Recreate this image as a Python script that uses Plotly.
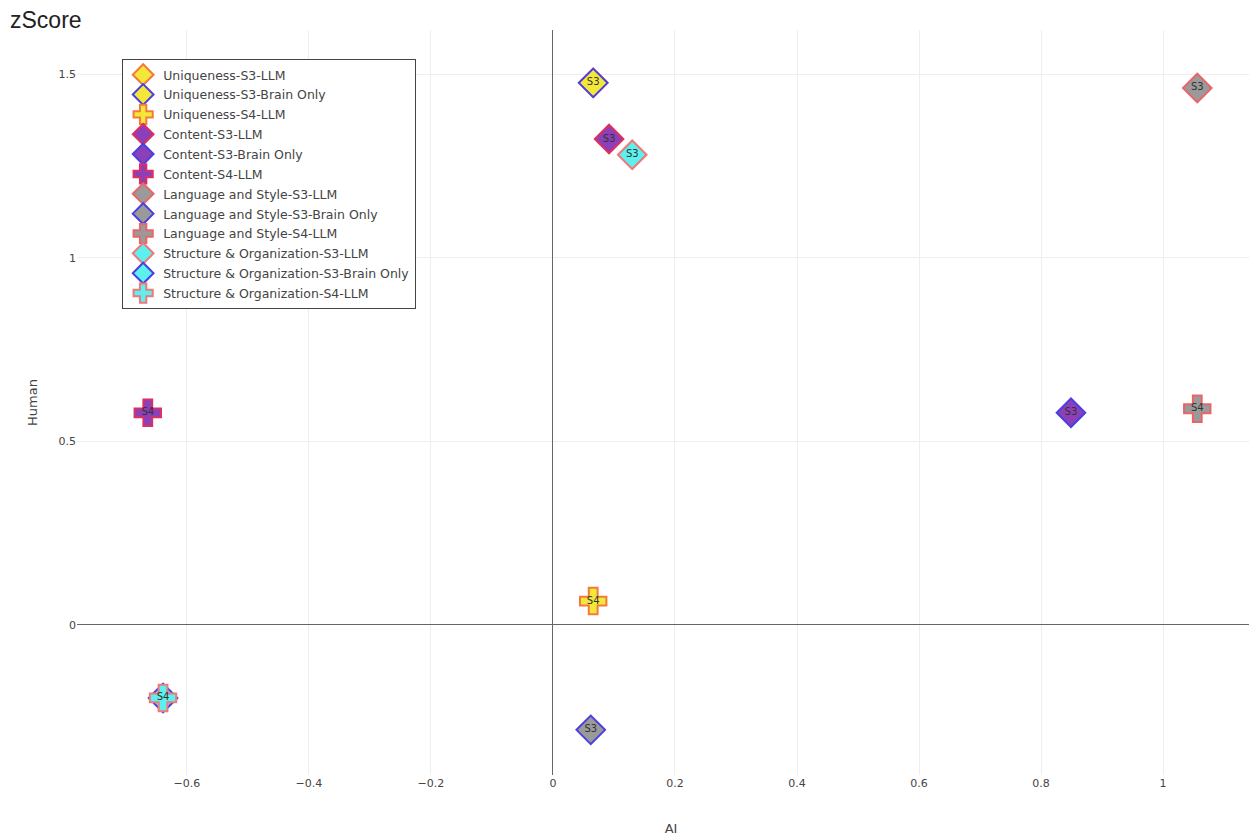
import plotly.graph_objects as go

# trace names, in legend order
names = [
    "Uniqueness-S3-LLM", "Uniqueness-S3-Brain Only", "Uniqueness-S4-LLM",
    "Content-S3-LLM", "Content-S3-Brain Only", "Content-S4-LLM",
    "Language and Style-S3-LLM", "Language and Style-S3-Brain Only", "Language and Style-S4-LLM",
    "Structure & Organization-S3-LLM", "Structure & Organization-S3-Brain Only", "Structure & Organization-S4-LLM",
]
ai_scores = [0.066, 0.066, 0.066, 0.092, 0.849, -0.664, 1.056, 0.062, 1.056, 0.130, -0.639, -0.639]
human_scores = [1.477, 1.477, 0.065, 1.324, 0.578, 0.578, 1.463, -0.286, 0.589, 1.281, -0.199, -0.199]
labels = ["S3", "S3", "S4", "S3", "S3", "S4", "S3", "S3", "S4", "S3", "S3", "S4"]

fills = {"Uniqueness": "#f3e83a", "Content": "#8c3fb8",
         "Language and Style": "#9a9a9a", "Structure & Organization": "#5cf0ee"}
llm_borders = {"Uniqueness": "#f47a3c", "Content": "#dc3060",
               "Language and Style": "#e8666a", "Structure & Organization": "#f07878"}
brain_border = "#4a3fe0"

fig = go.Figure()
for i, (name, x, y, lab) in enumerate(zip(names, ai_scores, human_scores, labels)):
    metric = name.rsplit("-S", 1)[0]
    is_brain = name.endswith("Brain Only")
    symbol = "cross" if "-S4-" in name else "diamond"
    fig.add_trace(go.Scatter(
        x=[x], y=[y], mode="markers+text", name=name, legendgroup=f"g{i}",
        text=[lab], textposition="middle center",
        textfont=dict(size=10, color="#333"),
        marker=dict(symbol=symbol, size=22, color=fills[metric],
                    line=dict(width=2, color=brain_border if is_brain else llm_borders[metric])),
    ))

# the page puts the figure 8px in from the top-left corner
fig.update_layout(
    width=1257, height=840,
    margin=dict(l=69, r=0, t=22, b=73),
    paper_bgcolor="white", plot_bgcolor="white",
    font=dict(family="DejaVu Sans, Verdana, sans-serif", size=11, color="#444"),
    title=dict(text="zScore", x=2 / 1257, xref="container", y=0.986, yanchor="middle",
               font=dict(family="Liberation Sans, Arial, sans-serif", size=23, color="#222")),
    legend=dict(x=0.038, y=0.961, xanchor="left", yanchor="top",
                bgcolor="white", bordercolor="#444", borderwidth=1, tracegroupgap=0.6,
                font=dict(size=12.5, color="#444"), itemsizing="trace"),
    xaxis=dict(title=dict(text="AI", standoff=34), range=[-0.780, 1.167], dtick=0.2,
               automargin=False,
               gridcolor="#eeeeee", zeroline=True, zerolinecolor="#666", zerolinewidth=1,
               showline=False),
    yaxis=dict(title=dict(text="Human", standoff=17), range=[-0.409, 1.621], dtick=0.5,
               automargin=False,
               gridcolor="#eeeeee", zeroline=True, zerolinecolor="#666", zerolinewidth=1,
               showline=False),
)

fig.write_html("out.html")
